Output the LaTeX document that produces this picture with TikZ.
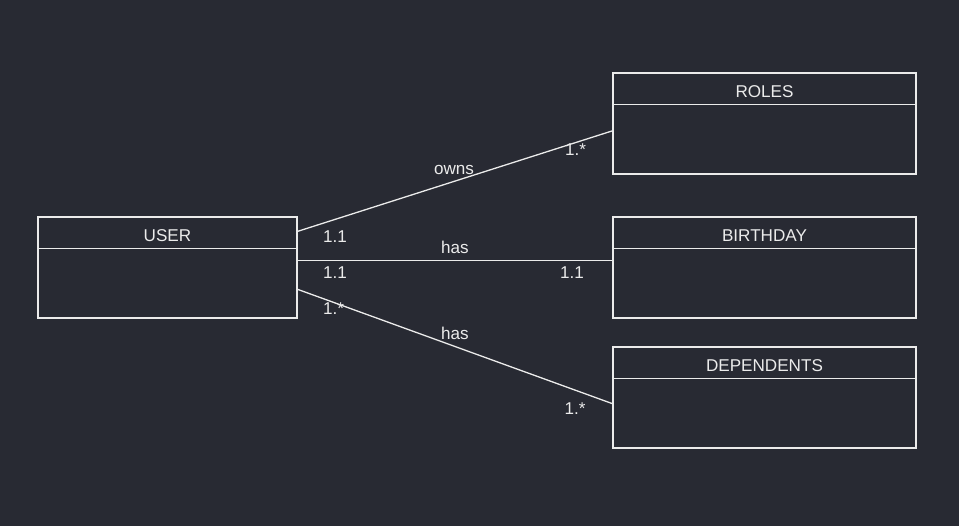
\documentclass[tikz,border=0pt]{standalone}
\usepackage{fontspec}
\setmainfont{Liberation Sans}
\usetikzlibrary{positioning}
\definecolor{canvas}{HTML}{282A33}
\definecolor{ink}{HTML}{EBEBEB}

\begin{document}
\begin{tikzpicture}
[x=1pt,y=-1pt,
entity/.style={rectangle,draw=ink,line width=1.3pt,inner sep=0pt,minimum height=101pt},
caption/.style={text=ink,font=\fontsize{17.1}{19}\selectfont,inner sep=0pt,anchor=base},
link/.style={draw=ink,line width=1.3pt}]
\fill[canvas] (0,0) rectangle (959,526);
\useasboundingbox (0,0) rectangle (959,526);
% entities
\node (user) at (167.5,267.5) [entity,minimum width=259pt] {};
\node (roles) at (764.5,123.5) [entity,minimum width=303pt] {};
\node (birthday) at (764.5,267.5) [entity,minimum width=303pt] {};
\node (dependents) at (764.5,397.5) [entity,minimum width=303pt] {};
\foreach \e in {user,roles,birthday,dependents}
  \draw[link] ([yshift=-32pt]\e.north west) -- ([yshift=-32pt]\e.north east);
\node (usertitle) at ([yshift=-24.7pt]user.north) [caption] {USER};
\node (rolestitle) at ([yshift=-24.7pt]roles.north) [caption] {ROLES};
\node (birthdaytitle) at ([yshift=-24.7pt]birthday.north) [caption] {BIRTHDAY};
\node (dependentstitle) at ([yshift=-24.7pt]dependents.north) [caption] {DEPENDENTS};
% relations
\draw[link] ([yshift=-15pt]user.north east) -- ([yshift=-58.5pt]roles.north west);
\draw[link] ([yshift=-44pt]user.north east) -- ([yshift=-44pt]birthday.north west);
\draw[link] ([yshift=-73pt]user.north east) -- ([yshift=-57.3pt]dependents.north west);
% labels
\node (ownslabel) at (454,175) [caption] {owns};
\node (ownsfrom) at (335,242.7) [caption] {1.1};
\node (ownsto) at (575.5,156) [caption] {1.*};
\node (haslabel) at (455,254) [caption] {has};
\node (hasfrom) at (335,278.3) [caption] {1.1};
\node (hasto) at (572,278.3) [caption] {1.1};
\node (deplabel) at (455,340) [caption] {has};
\node (depfrom) at (333.5,315) [caption] {1.*};
\node (depto) at (575,415) [caption] {1.*};
\end{tikzpicture}
\end{document}
